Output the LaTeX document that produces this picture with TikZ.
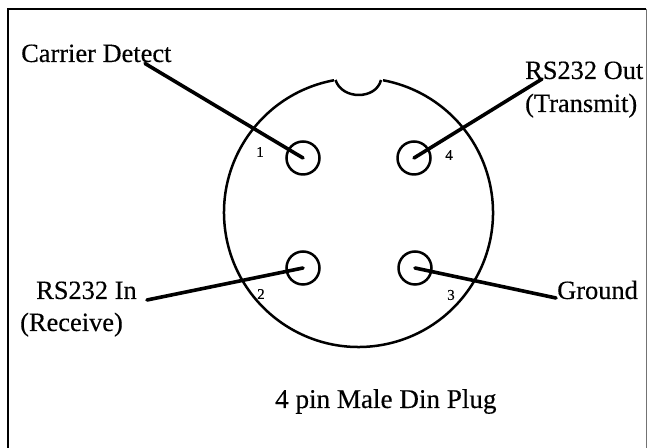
\documentclass[tikz,border=0pt]{standalone}
\usepackage{fontspec}
\setmainfont[FakeBold=0.35]{Liberation Serif}
\tikzset{
  lab/.style={anchor=base west,inner sep=0pt,font=\fontsize{26.5}{26.5}\selectfont},
  ttl/.style={anchor=base west,inner sep=0pt,font=\fontsize{27.2}{27.2}\selectfont},
  num/.style={inner sep=0pt,font=\fontsize{15}{15}\selectfont},
  pin/.style={circle,draw=black,line width=2.5bp,minimum size=33bp,inner sep=0pt},
  lead/.style={line width=3.6bp,line cap=round,draw=black},
  outline/.style={line width=2.5bp,draw=black}
}
\begin{document}
\begin{tikzpicture}[x=1bp,y=1bp]
\useasboundingbox (0,0) rectangle (647,448);
\fill[white] (0,0) rectangle (647,448);
% frame
\draw[line width=2.6bp,black] (8,0) -- (8,439) -- (646,439);
\draw[line width=1bp,black!55] (646,439) -- (646,0);
% body
\coordinate (bodyc) at (358.5,235.5);
\draw[outline] (bodyc) ++(100.5:134.5) arc[start angle=100.5,end angle=439.5,radius=134.5];
\draw[outline] (335.5,368) .. controls (342,348) and (376,348) .. (381,368);
% pins
\node[pin] (p1) at (303,290) {};
\node[pin] (p4) at (414,290) {};
\node[pin] (p2) at (303,180) {};
\node[pin] (p3) at (415,180) {};
% lead ends
\coordinate (e1) at (145,384.5);
\coordinate (e4) at (542,369);
\coordinate (e2) at (147,148);
\coordinate (e3) at (556,150);
\draw[lead] (p1.center) -- (e1);
\draw[lead] (p4.center) -- (e4);
\draw[lead] (p2.center) -- (e2);
\draw[lead] (p3.center) -- (e3);
% labels
\node[lab] (carrier) at (21,386) {Carrier Detect};
\node[lab] (out) at (525,369) {RS232 Out};
\node[lab] (tx) at (525,336) {(Transmit)};
\node[lab] (in) at (36,149) {RS232 In};
\node[lab] (rx) at (20,117) {(Receive)};
\node[lab] (gnd) at (557,149) {Ground};
\node[ttl] (title) at (275,40) {4 pin Male Din Plug};
\node[num] (n1) at (260,296) {1};
\node[num] (n4) at (449,293) {4};
\node[num] (n2) at (261,154) {2};
\node[num] (n3) at (451,153) {3};
\end{tikzpicture}
\end{document}
